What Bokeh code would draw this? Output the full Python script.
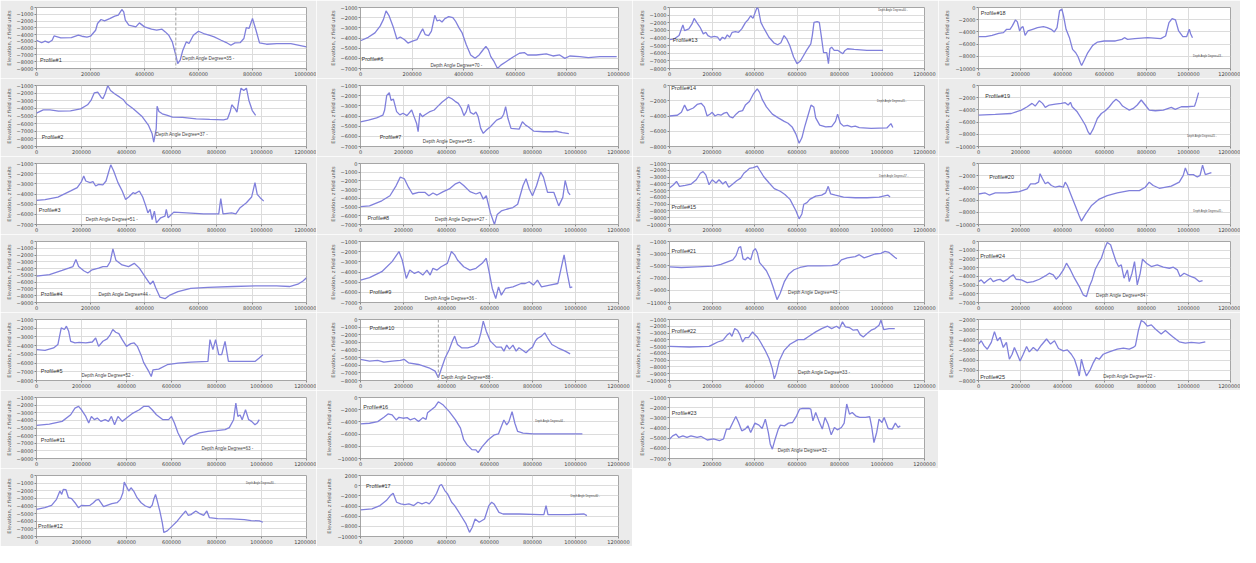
from bokeh.plotting import figure
from bokeh.layouts import gridplot
from bokeh.models import Range1d, FixedTicker, BasicTickFormatter, Label, Span
from bokeh.embed import file_html
from bokeh.resources import INLINE

# ---------------- data ----------------
P1_X = [0, 19000, 32000, 45000, 58000, 65000, 90000, 129000, 155000, 168000, 187000, 200000, 219000, 226000, 239000, 252000, 271000, 290000, 303000, 316000, 323000, 329000, 342000, 368000, 381000, 400000, 426000, 445000, 465000, 477000, 490000, 503000, 516000, 523000, 532000, 542000, 555000, 565000, 581000, 600000, 619000, 639000, 658000, 684000, 703000, 720000, 735000, 755000, 768000, 777000, 787000, 800000, 813000, 826000, 852000, 890000, 942000, 1000000]
P1_Y = [-4830, -5200, -4950, -5170, -4830, -4200, -4480, -4430, -4090, -4240, -4380, -4240, -3350, -2360, -1770, -1970, -1630, -1280, -1130, -300, -640, -1870, -2610, -2860, -2270, -2860, -3200, -3350, -3200, -3600, -4090, -5070, -7040, -8280, -7780, -6300, -5070, -5320, -4090, -3500, -3840, -4090, -4330, -4830, -5170, -5570, -5220, -5170, -4580, -2960, -3100, -1630, -3350, -5220, -5420, -5320, -5320, -5810]

P2_X = [0, 30000, 60000, 98000, 151000, 196000, 227000, 242000, 257000, 272000, 287000, 295000, 305000, 317000, 329000, 347000, 370000, 385000, 400000, 430000, 468000, 498000, 514000, 521000, 532000, 536000, 544000, 559000, 582000, 604000, 649000, 710000, 770000, 831000, 849000, 861000, 868000, 883000, 891000, 903000, 909000, 921000, 933000, 944000, 959000, 974000]
P2_Y = [-4620, -4190, -4190, -4360, -4320, -4060, -3530, -2960, -1960, -1870, -2530, -2750, -2090, -1000, -1650, -2090, -2530, -2830, -3400, -4060, -5020, -6240, -7330, -8420, -6680, -3710, -4400, -4710, -4930, -5150, -5190, -5370, -5450, -5500, -5370, -4400, -3530, -4060, -4490, -2310, -1350, -1650, -1350, -2960, -4280, -4930]

P3_X = [0, 38000, 95000, 152000, 181000, 200000, 210000, 219000, 238000, 251000, 263000, 276000, 295000, 309000, 320000, 330000, 343000, 362000, 381000, 396000, 410000, 429000, 438000, 457000, 472000, 486000, 495000, 505000, 514000, 524000, 533000, 552000, 571000, 577000, 585000, 610000, 667000, 743000, 810000, 819000, 829000, 867000, 886000, 905000, 933000, 956000, 971000, 981000, 994000, 1010000]
P3_Y = [-4630, -4560, -4300, -3700, -3380, -2780, -2220, -2720, -2880, -2780, -3210, -3050, -3110, -2720, -1890, -1130, -1730, -2880, -3700, -4530, -4300, -3870, -3960, -3700, -4300, -5190, -5850, -5520, -6510, -5680, -6840, -6340, -6180, -5520, -6340, -5780, -5850, -5950, -5950, -4460, -5950, -5850, -5950, -5350, -4860, -4300, -2880, -4030, -4360, -4700]

P4_X = [0, 48000, 95000, 119000, 135000, 146000, 156000, 175000, 190000, 206000, 230000, 246000, 262000, 273000, 283000, 294000, 317000, 341000, 362000, 381000, 405000, 421000, 432000, 441000, 457000, 476000, 492000, 524000, 571000, 635000, 730000, 810000, 889000, 937000, 968000, 987000, 1000000]
P4_Y = [-5120, -4880, -4270, -3930, -3700, -2650, -3700, -4320, -4640, -4170, -3930, -3700, -3700, -2990, -1090, -2750, -3460, -3700, -3220, -3930, -5360, -6300, -5830, -6780, -8200, -8440, -7960, -7390, -6920, -6780, -6640, -6540, -6540, -6640, -6300, -5830, -5360]

P5_X = [0, 38000, 76000, 95000, 110000, 124000, 133000, 143000, 152000, 171000, 190000, 219000, 248000, 263000, 276000, 295000, 314000, 328000, 339000, 352000, 366000, 381000, 400000, 419000, 434000, 448000, 467000, 476000, 486000, 499000, 510000, 518000, 543000, 581000, 629000, 686000, 762000, 771000, 784000, 796000, 810000, 823000, 838000, 853000, 895000, 971000, 990000, 1006000]
P5_Y = [-4460, -4540, -4270, -3880, -1960, -2150, -1770, -2350, -3500, -3690, -3620, -3690, -3580, -3120, -4080, -3500, -3230, -2730, -2150, -2460, -2620, -3310, -4080, -3770, -3690, -4080, -5230, -5920, -6380, -6960, -7540, -6770, -6690, -6190, -6000, -5880, -5810, -3310, -4460, -3310, -5040, -5040, -3500, -5810, -5810, -5810, -5420, -5040]

P6_X = [0, 30000, 56000, 76000, 89000, 99000, 111000, 128000, 141000, 154000, 171000, 184000, 199000, 219000, 232000, 241000, 251000, 264000, 275000, 288000, 297000, 306000, 316000, 327000, 342000, 358000, 368000, 382000, 394000, 410000, 427000, 444000, 460000, 473000, 486000, 496000, 505000, 518000, 531000, 544000, 564000, 590000, 616000, 635000, 648000, 681000, 720000, 746000, 772000, 792000, 811000, 850000, 883000, 928000, 967000, 993000]
P6_Y = [-4270, -3930, -3500, -2830, -2170, -1330, -1830, -3000, -4100, -3900, -4170, -4500, -4330, -4170, -3500, -3100, -3670, -3770, -3330, -1770, -2330, -2230, -2430, -2100, -1900, -2000, -2330, -3000, -3500, -4670, -5670, -6000, -5670, -5230, -4830, -5170, -5830, -6330, -7000, -6670, -6330, -5900, -5500, -5430, -5670, -5670, -5570, -5770, -5670, -6000, -5770, -5830, -5930, -5830, -5830, -5830]

P7_X = [0, 37000, 75000, 104000, 112000, 122000, 134000, 142000, 153000, 168000, 183000, 198000, 216000, 238000, 249000, 261000, 268000, 276000, 288000, 298000, 320000, 343000, 358000, 380000, 410000, 425000, 440000, 455000, 469000, 481000, 492000, 502000, 511000, 526000, 537000, 547000, 559000, 571000, 586000, 604000, 633000, 656000, 666000, 675000, 686000, 700000, 738000, 753000, 768000, 780000, 805000, 850000, 894000, 909000, 939000, 969000]
P7_Y = [-4570, -4410, -4180, -3920, -3440, -1970, -1710, -2460, -2340, -3570, -3890, -3730, -3960, -3410, -4060, -4730, -5550, -3730, -4060, -3900, -3600, -3410, -3080, -2620, -2140, -2300, -2560, -2760, -3240, -3960, -3570, -2860, -3640, -3830, -3600, -4060, -5220, -5710, -5380, -5060, -4410, -4180, -3830, -3080, -4250, -5220, -5290, -4570, -4900, -5060, -5480, -5550, -5550, -5500, -5640, -5740]

P8_X = [0, 42000, 99000, 137000, 166000, 185000, 204000, 223000, 242000, 270000, 299000, 318000, 337000, 356000, 385000, 413000, 442000, 461000, 480000, 509000, 537000, 556000, 571000, 585000, 604000, 623000, 636000, 655000, 680000, 709000, 731000, 756000, 770000, 785000, 800000, 819000, 838000, 851000, 870000, 899000, 922000, 941000, 952000, 966000, 975000]
P8_Y = [-4940, -4860, -4280, -3700, -2530, -1560, -1750, -2720, -3500, -3310, -3310, -3700, -3390, -3620, -3230, -2920, -2330, -2140, -2530, -3230, -3500, -3310, -4090, -3700, -5640, -7000, -5840, -5450, -5250, -5060, -4670, -2530, -1750, -2920, -3700, -2530, -970, -1560, -3310, -3310, -4860, -3890, -1950, -3310, -3600]

P9_X = [0, 42000, 99000, 147000, 179000, 194000, 213000, 229000, 251000, 270000, 290000, 309000, 324000, 337000, 356000, 375000, 404000, 423000, 438000, 451000, 480000, 509000, 537000, 566000, 585000, 598000, 613000, 629000, 642000, 655000, 674000, 709000, 747000, 766000, 785000, 804000, 823000, 842000, 880000, 918000, 933000, 947000, 960000, 975000, 985000]
P9_Y = [-4800, -4560, -3970, -2980, -1990, -2820, -4630, -3810, -4140, -3970, -4300, -3810, -4300, -3640, -3810, -3480, -3150, -1990, -2320, -2820, -3480, -3810, -3640, -3150, -2650, -3970, -5620, -6610, -5460, -6280, -5620, -5460, -5130, -5130, -4960, -5290, -4800, -5460, -5290, -5130, -3640, -2320, -3970, -5550, -5460]

P10_X = [0, 42000, 80000, 109000, 147000, 185000, 204000, 223000, 270000, 318000, 347000, 362000, 375000, 394000, 413000, 427000, 438000, 451000, 470000, 499000, 528000, 547000, 560000, 571000, 585000, 604000, 632000, 655000, 667000, 680000, 693000, 709000, 724000, 737000, 756000, 770000, 785000, 800000, 813000, 823000, 842000, 857000, 870000, 890000, 918000, 952000, 975000]
P10_Y = [-5240, -5460, -5370, -5590, -5460, -5370, -5240, -5680, -5900, -6330, -6770, -7640, -6550, -5020, -3930, -2840, -2180, -3280, -3710, -3710, -3490, -3060, -1750, -220, -1530, -2840, -3620, -3620, -4150, -3360, -3880, -3360, -4150, -3710, -4060, -4370, -3930, -3620, -2840, -2490, -2180, -1750, -2400, -3280, -3710, -4150, -4500]

P11_X = [0, 57000, 114000, 152000, 171000, 187000, 200000, 219000, 232000, 244000, 257000, 270000, 286000, 305000, 320000, 333000, 347000, 362000, 381000, 400000, 429000, 457000, 476000, 499000, 514000, 533000, 562000, 587000, 600000, 613000, 629000, 644000, 653000, 667000, 686000, 724000, 762000, 800000, 838000, 857000, 876000, 886000, 895000, 905000, 914000, 929000, 943000, 956000, 971000, 981000, 990000]
P11_Y = [-4650, -4480, -4130, -3260, -2390, -2170, -2610, -3480, -4350, -3480, -3910, -3700, -4130, -3910, -4130, -3480, -4570, -3480, -4130, -3700, -3040, -2610, -2170, -2170, -2610, -3260, -3910, -3910, -3480, -4350, -5650, -6520, -7170, -6520, -6090, -5650, -5430, -5350, -5220, -4950, -3910, -1740, -3480, -3300, -3910, -2610, -3910, -4130, -4570, -4350, -3910]

P12_X = [0, 37000, 67000, 89000, 104000, 112000, 119000, 131000, 142000, 156000, 171000, 186000, 201000, 216000, 238000, 253000, 265000, 276000, 286000, 298000, 313000, 335000, 358000, 373000, 384000, 390000, 399000, 410000, 420000, 432000, 447000, 465000, 484000, 504000, 514000, 522000, 529000, 537000, 548000, 559000, 566000, 581000, 604000, 626000, 644000, 663000, 674000, 686000, 708000, 723000, 743000, 757000, 768000, 805000, 865000, 924000, 954000, 991000, 1006000]
P12_Y = [-4430, -4220, -3910, -3130, -2040, -2480, -1830, -1870, -2910, -3040, -3570, -4220, -3910, -3960, -3910, -3570, -3220, -3130, -3570, -4090, -3910, -3700, -3570, -3130, -2260, -870, -1390, -2040, -1610, -2040, -2910, -3570, -4000, -4220, -3910, -3040, -2480, -3350, -4650, -6170, -7480, -7260, -6610, -5960, -5300, -4650, -5220, -5130, -4650, -4960, -5220, -4650, -5520, -5650, -5700, -5780, -5910, -5960, -6130]

P13_X = [0, 23000, 45000, 56000, 63000, 71000, 91000, 106000, 116000, 128000, 144000, 159000, 171000, 181000, 196000, 211000, 227000, 237000, 249000, 261000, 272000, 283000, 295000, 310000, 325000, 340000, 358000, 370000, 382000, 393000, 403000, 412000, 418000, 430000, 446000, 468000, 491000, 509000, 524000, 539000, 551000, 566000, 584000, 600000, 615000, 627000, 645000, 665000, 672000, 680000, 695000, 705000, 714000, 725000, 740000, 748000, 755000, 763000, 775000, 793000, 816000, 826000, 838000, 869000, 929000, 1005000]
P13_Y = [-4200, -4110, -3680, -2810, -2290, -3030, -2810, -2160, -1430, -1950, -2600, -3460, -3250, -3680, -3900, -3790, -3900, -4330, -3900, -4110, -3590, -3900, -3250, -3160, -3250, -2810, -1950, -1600, -1080, -1430, -650, 0, -220, -1950, -2810, -3900, -4630, -4890, -4630, -3680, -4110, -4980, -6490, -7360, -7060, -6490, -5630, -4760, -3680, -1950, -1860, -1950, -3680, -5930, -5930, -7360, -5410, -5200, -5630, -5630, -6060, -5630, -5410, -5500, -5630, -5630]

P14_X = [0, 37000, 56000, 71000, 84000, 112000, 130000, 149000, 164000, 177000, 190000, 201000, 214000, 227000, 242000, 257000, 270000, 283000, 298000, 313000, 326000, 344000, 357000, 376000, 394000, 413000, 424000, 437000, 456000, 484000, 512000, 540000, 558000, 577000, 595000, 610000, 623000, 636000, 651000, 666000, 679000, 688000, 707000, 735000, 763000, 781000, 791000, 804000, 819000, 837000, 856000, 874000, 893000, 949000, 1023000, 1042000, 1051000]
P14_Y = [-4000, -3900, -3520, -2570, -3290, -2950, -2480, -2330, -2810, -4000, -3760, -3520, -4000, -3800, -3900, -3620, -3520, -4090, -4240, -3760, -3430, -3290, -2570, -2100, -1140, -430, -900, -1860, -2810, -3760, -4240, -4710, -4950, -5430, -6380, -7570, -6860, -5430, -4000, -2570, -2810, -4240, -5190, -5430, -5380, -4710, -3760, -4950, -5330, -5240, -5430, -5330, -5520, -5620, -5570, -5000, -5520]

P15_X = [0, 19000, 33000, 47000, 74000, 102000, 126000, 145000, 158000, 171000, 186000, 201000, 219000, 233000, 251000, 264000, 279000, 298000, 316000, 335000, 350000, 363000, 376000, 394000, 413000, 424000, 443000, 469000, 493000, 521000, 543000, 567000, 595000, 610000, 623000, 632000, 647000, 660000, 688000, 716000, 735000, 747000, 758000, 781000, 819000, 874000, 930000, 986000, 1027000, 1038000]
P15_Y = [-4610, -4130, -3640, -4370, -4220, -4030, -3400, -2440, -2200, -2680, -4130, -3400, -3880, -3400, -4030, -3640, -4510, -4030, -3540, -3160, -2440, -2100, -1720, -1620, -1380, -1960, -2920, -3880, -4700, -5090, -5570, -6290, -7970, -9170, -8450, -7010, -6770, -6290, -5810, -5660, -5330, -4370, -5470, -5660, -5950, -6050, -6050, -5950, -5660, -5950]

P16_X = [0, 42000, 80000, 109000, 128000, 147000, 166000, 179000, 198000, 217000, 232000, 251000, 270000, 290000, 305000, 312000, 328000, 347000, 362000, 385000, 413000, 442000, 465000, 480000, 495000, 518000, 537000, 547000, 566000, 594000, 623000, 642000, 655000, 667000, 680000, 690000, 705000, 718000, 731000, 756000, 804000, 899000, 1032000]
P16_Y = [-4320, -4220, -3950, -3240, -2700, -2860, -3680, -3240, -3400, -3300, -3680, -3400, -3950, -3300, -3600, -2490, -2050, -1510, -700, -1240, -2320, -3680, -5030, -6920, -7730, -8540, -8600, -9030, -8050, -6920, -6110, -5950, -4760, -3680, -4490, -4000, -2320, -4220, -5570, -5840, -5950, -5950, -5950]

P17_X = [0, 53000, 91000, 120000, 139000, 152000, 168000, 187000, 206000, 225000, 248000, 267000, 286000, 305000, 320000, 339000, 354000, 368000, 377000, 392000, 405000, 424000, 438000, 453000, 472000, 491000, 507000, 520000, 533000, 552000, 577000, 597000, 610000, 621000, 644000, 663000, 739000, 834000, 853000, 863000, 872000, 968000, 1040000, 1053000]
P17_Y = [-4780, -4580, -3920, -2930, -1950, -1490, -3260, -3590, -3720, -3590, -3920, -3260, -3590, -3260, -3590, -2600, -1490, 0, 220, -960, -1620, -3260, -3920, -4910, -6220, -7530, -9180, -8190, -6550, -7210, -6550, -3920, -3260, -3590, -5240, -5570, -5570, -5700, -5700, -3920, -5700, -5700, -5570, -5900]

P18_X = [0, 34000, 65000, 96000, 119000, 134000, 150000, 161000, 176000, 185000, 196000, 204000, 212000, 222000, 235000, 258000, 281000, 309000, 327000, 346000, 361000, 374000, 386000, 397000, 405000, 417000, 433000, 448000, 463000, 474000, 485000, 491000, 505000, 520000, 544000, 567000, 598000, 652000, 683000, 695000, 710000, 744000, 806000, 868000, 891000, 907000, 922000, 938000, 953000, 973000, 991000, 1004000, 1010000, 1019000]
P18_Y = [-4780, -4780, -4560, -4230, -4120, -3570, -3570, -3020, -2030, -2360, -3850, -3300, -3130, -4560, -3850, -3570, -3300, -3130, -3300, -3570, -4010, -3300, -550, -270, -1370, -3570, -4950, -6870, -7420, -8080, -9070, -9510, -8520, -7420, -6210, -5660, -5490, -5490, -5220, -4950, -5220, -5110, -4950, -5110, -4670, -2470, -1810, -2030, -3850, -4780, -4780, -3570, -4300, -4950]

P19_X = [0, 80000, 156000, 204000, 232000, 255000, 270000, 290000, 305000, 318000, 337000, 366000, 394000, 413000, 427000, 438000, 446000, 470000, 490000, 509000, 522000, 531000, 547000, 566000, 585000, 604000, 623000, 642000, 655000, 670000, 686000, 705000, 718000, 737000, 756000, 775000, 794000, 813000, 842000, 880000, 918000, 937000, 966000, 994000, 1029000, 1036000, 1048000]
P19_Y = [-4860, -4750, -4590, -4030, -3480, -2930, -3370, -2490, -2930, -3590, -3200, -3040, -2930, -2820, -3200, -2760, -3480, -4310, -5410, -6520, -7620, -8070, -7070, -5410, -4590, -4140, -3480, -2650, -2270, -2650, -3370, -3760, -4030, -3760, -3200, -2380, -3200, -4030, -4140, -4030, -3590, -3920, -3480, -3480, -3370, -2650, -1160]

P20_X = [0, 32000, 51000, 80000, 137000, 194000, 232000, 248000, 270000, 286000, 293000, 305000, 318000, 331000, 347000, 366000, 385000, 404000, 413000, 423000, 442000, 461000, 480000, 490000, 509000, 537000, 575000, 613000, 661000, 718000, 766000, 794000, 813000, 832000, 861000, 918000, 956000, 975000, 985000, 998000, 1023000, 1042000, 1055000, 1067000, 1080000, 1109000]
P20_Y = [-5000, -4830, -5170, -4830, -4830, -4610, -4170, -3330, -3330, -3060, -1670, -2500, -3330, -3060, -3610, -3890, -3720, -3890, -3060, -3610, -5280, -6940, -8610, -9440, -8330, -6940, -5830, -5280, -4830, -4440, -4440, -3890, -3060, -3610, -4060, -3720, -3060, -1940, -720, -1830, -1830, -2220, -1940, -280, -1830, -1500]

P21_X = [0, 56000, 130000, 205000, 242000, 270000, 298000, 313000, 326000, 335000, 346000, 357000, 368000, 382000, 394000, 404000, 413000, 424000, 437000, 456000, 474000, 487000, 499000, 506000, 521000, 540000, 562000, 586000, 614000, 651000, 707000, 763000, 791000, 809000, 837000, 874000, 893000, 916000, 940000, 967000, 995000, 1014000, 1033000, 1046000, 1060000, 1070000]
P21_Y = [-5160, -5260, -5160, -5050, -4740, -4370, -4000, -3320, -2000, -1840, -3840, -4000, -3580, -4000, -2530, -2160, -2790, -4470, -5000, -5790, -7110, -8420, -9740, -10530, -9470, -7630, -6320, -5630, -5260, -5000, -5000, -4950, -4740, -4000, -3680, -3470, -3160, -3680, -3400, -3050, -2950, -2630, -2790, -3160, -3580, -3840]

P22_X = [0, 93000, 186000, 205000, 227000, 251000, 270000, 283000, 294000, 307000, 320000, 331000, 344000, 357000, 372000, 391000, 400000, 413000, 428000, 450000, 469000, 484000, 493000, 502000, 517000, 540000, 567000, 605000, 633000, 651000, 688000, 716000, 744000, 763000, 786000, 800000, 814000, 828000, 846000, 865000, 884000, 897000, 912000, 930000, 949000, 967000, 986000, 995000, 1008000, 1033000, 1060000]
P22_Y = [-4960, -5060, -4960, -4660, -4320, -4070, -3330, -2980, -3480, -2340, -2580, -3230, -4320, -3680, -3680, -2830, -3180, -3580, -4320, -5550, -6790, -8280, -9760, -9020, -7040, -5550, -4660, -3970, -3970, -3580, -2830, -2340, -1990, -2340, -1990, -2340, -1350, -2090, -2190, -2580, -2480, -3230, -3580, -3080, -2580, -2340, -1840, -1100, -2480, -2340, -2340]

P23_X = [0, 15000, 31000, 44000, 63000, 82000, 101000, 130000, 149000, 178000, 207000, 235000, 254000, 268000, 283000, 298000, 312000, 325000, 340000, 356000, 369000, 382000, 402000, 421000, 436000, 451000, 465000, 474000, 484000, 497000, 512000, 522000, 541000, 560000, 579000, 598000, 612000, 627000, 656000, 665000, 675000, 688000, 703000, 719000, 732000, 746000, 761000, 776000, 790000, 809000, 822000, 834000, 847000, 860000, 876000, 895000, 923000, 942000, 952000, 962000, 975000, 986000, 1000000, 1010000, 1029000, 1048000, 1063000, 1076000, 1086000]
P23_Y = [-5100, -4770, -4610, -4930, -4770, -4930, -4770, -4930, -4830, -5180, -5080, -5250, -5080, -4110, -4110, -3460, -2870, -3460, -4280, -4110, -3790, -4440, -3520, -3720, -4050, -3130, -4440, -5570, -6080, -5100, -4110, -3720, -3790, -3520, -3460, -2800, -2150, -2080, -2080, -2150, -3300, -2480, -3300, -4110, -2960, -3600, -4670, -3950, -4180, -3950, -3520, -1640, -2640, -2480, -2800, -2960, -2960, -2870, -3950, -5430, -4440, -3130, -3460, -2960, -4050, -4110, -3520, -3950, -3790]

P24_X = [0, 13000, 27000, 42000, 57000, 70000, 90000, 103000, 118000, 137000, 152000, 166000, 179000, 204000, 232000, 261000, 290000, 318000, 337000, 356000, 370000, 385000, 404000, 419000, 438000, 457000, 480000, 499000, 514000, 528000, 541000, 556000, 571000, 585000, 598000, 613000, 629000, 642000, 655000, 667000, 680000, 693000, 709000, 718000, 731000, 743000, 756000, 770000, 781000, 800000, 823000, 851000, 880000, 909000, 928000, 947000, 960000, 979000, 1004000, 1032000, 1051000, 1067000]
P24_Y = [-4600, -4410, -4790, -4480, -4210, -4600, -4410, -4350, -4600, -4350, -4020, -3830, -4330, -4410, -4710, -4600, -4330, -3950, -3640, -3830, -4330, -3950, -3260, -2490, -3260, -4210, -5170, -6130, -6320, -5170, -4410, -3180, -2490, -1920, -960, -110, -380, -1340, -2300, -2870, -2680, -4210, -3260, -4600, -3640, -2300, -4980, -3640, -2030, -2490, -2870, -2680, -2950, -3070, -2950, -3260, -4020, -3640, -3950, -4210, -4600, -4480]

P25_X = [0, 13000, 27000, 42000, 61000, 76000, 90000, 103000, 118000, 133000, 147000, 160000, 171000, 185000, 198000, 213000, 229000, 242000, 261000, 280000, 299000, 324000, 343000, 362000, 381000, 404000, 423000, 442000, 457000, 470000, 480000, 490000, 503000, 514000, 533000, 547000, 560000, 575000, 594000, 613000, 636000, 661000, 690000, 718000, 737000, 747000, 762000, 775000, 789000, 804000, 823000, 842000, 870000, 890000, 909000, 928000, 956000, 985000, 1013000, 1051000, 1080000]
P25_Y = [-4420, -4090, -4590, -4920, -4250, -3190, -4090, -3750, -4750, -4250, -5910, -5420, -4750, -5420, -6080, -5420, -4650, -5190, -4750, -5090, -4530, -3920, -4420, -4090, -4850, -5090, -4990, -5420, -5910, -6740, -7560, -5910, -6900, -7560, -6900, -6240, -5750, -5910, -5420, -5250, -5090, -4920, -4820, -4920, -4750, -4590, -3030, -2100, -2270, -2660, -2530, -2930, -3420, -3090, -3420, -3750, -4190, -4320, -4250, -4320, -4190]

PROFILE_NUMBERS = list(range(1, 26))
DEPTH_ANGLES = [35, 37, 51, 44, 52, 70, 55, 27, 36, 88, 63, 80, 60, 45, 57, 64, 60, 43, 45, 45, 43, 33, 32, 84, 22]
SERIES = {1: (P1_X, P1_Y), 2: (P2_X, P2_Y), 3: (P3_X, P3_Y), 4: (P4_X, P4_Y), 5: (P5_X, P5_Y),
          6: (P6_X, P6_Y), 7: (P7_X, P7_Y), 8: (P8_X, P8_Y), 9: (P9_X, P9_Y), 10: (P10_X, P10_Y),
          11: (P11_X, P11_Y), 12: (P12_X, P12_Y), 13: (P13_X, P13_Y), 14: (P14_X, P14_Y), 15: (P15_X, P15_Y),
          16: (P16_X, P16_Y), 17: (P17_X, P17_Y), 18: (P18_X, P18_Y), 19: (P19_X, P19_Y), 20: (P20_X, P20_Y),
          21: (P21_X, P21_Y), 22: (P22_X, P22_Y), 23: (P23_X, P23_Y), 24: (P24_X, P24_Y), 25: (P25_X, P25_Y)}

# ---------------- layout / style (not data) ----------------
# profile -> (x max, y min, y max, y step)
AXES = {1: (1000000, -9000, 0, 1000), 2: (1200000, -9000, -1000, 1000), 3: (1200000, -7000, -1000, 1000),
        4: (1000000, -9000, 0, 1000), 5: (1200000, -8000, -1000, 1000), 6: (1000000, -7000, -1000, 1000),
        7: (1200000, -7000, -1000, 1000), 8: (1200000, -7000, 0, 1000), 9: (1200000, -7000, -1000, 1000),
        10: (1200000, -8000, 0, 1000), 11: (1200000, -9000, -1000, 1000), 12: (1200000, -8000, 0, 1000),
        13: (1200000, -8000, 0, 1000), 14: (1200000, -8000, 0, 2000), 15: (1200000, -10000, -1000, 1000),
        16: (1200000, -10000, 0, 2000), 17: (1200000, -10000, 2000, 2000), 18: (1200000, -10000, 0, 2000),
        19: (1200000, -10000, 0, 2000), 20: (1200000, -10000, 0, 2000), 21: (1200000, -11000, -1000, 2000),
        22: (1200000, -10000, -1000, 1000), 23: (1200000, -7000, -1000, 1000), 24: (1200000, -7000, 0, 1000),
        25: (1200000, -8000, -2000, 1000)}
# profile -> (label x, label y, depth text x, depth text y, small depth text)
LABELS = {1: (13000, -7800, 540000, -7500, False), 2: (23000, -7700, 530000, -7460, False),
          3: (10000, -5550, 219000, -6500, False), 4: (16000, -7680, 230000, -7820, False),
          5: (19000, -6960, 200000, -7420, False), 6: (4000, -6100, 271000, -6670, False),
          7: (89000, -6030, 290000, -6520, False), 8: (32000, -6300, 347000, -6420, False),
          9: (42000, -5950, 299000, -6610, False), 10: (42000, -1090, 375000, -7550, False),
          11: (19000, -6520, 733000, -7700, False), 12: (7000, -6610, 931000, -1050, True),
          13: (15000, -4240, 982000, -450, True), 14: (8000, -350, 977000, -2100, True),
          15: (9000, -7400, 986000, -2920, True), 16: (13000, -1620, 813000, -3950, True),
          17: (25000, 0, 977000, -2150, True), 18: (11000, -820, 1022000, -7970, True),
          19: (32000, -1660, 994000, -8400, True), 20: (51000, -2220, 1023000, -7780, True),
          21: (9000, -2530, 558000, -9310, False), 22: (9000, -2680, 605000, -8870, False),
          23: (11000, -2480, 509000, -6180, False), 24: (8000, -1650, 560000, -6170, False),
          25: (8000, -7700, 594000, -7630, False)}
MARKERS = {1: 516000, 10: 362000}

GRID = [[1, 6, 13, 18], [2, 7, 14, 19], [3, 8, 15, 20], [4, 9, 21, 24],
        [5, 10, 22, 25], [11, 16, 23, None], [12, 17, None, None]]
COL_W = [316, 316, 306, 302]
COL_LEFT = [36, 44, 30, 40]
COL_RIGHT = [10, 14, 14, 10]
ROW_H = 78
BG = "#ebebeb"
LINE = "#8080dc"
FONT = "Liberation Sans"


def make_panel(n, col):
    xs, ys = SERIES[n]
    xmax, ymin, ymax, ystep = AXES[n]
    p = figure(width=COL_W[col], height=ROW_H, output_backend="svg", toolbar_location=None,
               x_range=Range1d(0, xmax), y_range=Range1d(ymin, ymax),
               min_border_left=COL_LEFT[col], min_border_right=COL_RIGHT[col],
               min_border_top=7, min_border_bottom=10,
               background_fill_color="white", border_fill_color=BG)
    p.outline_line_color = "#a6a6a6"
    p.xaxis.ticker = FixedTicker(ticks=list(range(0, xmax + 1, 200000)))
    p.yaxis.ticker = FixedTicker(ticks=list(range(ymin, ymax + 1, ystep)))
    p.xaxis.formatter = BasicTickFormatter(use_scientific=False)
    p.yaxis.formatter = BasicTickFormatter(use_scientific=False)
    for ax in (p.xaxis[0], p.yaxis[0]):
        ax.axis_line_color = None
        ax.major_tick_line_color = "#888888"
        ax.major_tick_out = 2
        ax.major_tick_in = 0
        ax.minor_tick_line_color = None
        ax.major_label_text_font_size = "5px"
        ax.major_label_text_color = "#444444"
        ax.major_label_text_font = "DejaVu Sans"
        ax.major_label_standoff = 1
    p.yaxis.axis_label = "Elevation, z field units"
    p.yaxis.axis_label_text_font_size = "5px"
    p.yaxis.axis_label_text_font_style = "normal"
    p.yaxis.axis_label_text_color = "#555555"
    p.yaxis.axis_label_text_font = "DejaVu Sans"
    p.yaxis.axis_label_standoff = 2
    p.grid.grid_line_color = "#dcdcdc"
    p.grid.grid_line_width = 1
    if n in MARKERS:
        p.add_layout(Span(location=MARKERS[n], dimension="height", line_color="#a0a0a0",
                          line_dash="3 2", line_width=1))
    p.line(xs, ys, line_color=LINE, line_width=1.3)
    lx, ly, dx, dy, small = LABELS[n]
    p.add_layout(Label(x=lx, y=ly, text=f"Profile#{n}", text_font_size="5.5px",
                       text_color="#333333", text_font=FONT, text_baseline="middle"))
    p.add_layout(Label(x=dx, y=dy, text=f"Depth Angle Degree={DEPTH_ANGLES[n - 1]} -",
                       text_font_size="2.6px" if small else "4.6px",
                       text_color="#444444", text_font=FONT, text_baseline="middle"))
    return p


rows = []
for r in GRID:
    row_figs = []
    for c, n in enumerate(r):
        row_figs.append(make_panel(n, c) if n is not None else None)
    rows.append(row_figs)

layout = gridplot(rows, toolbar_location=None)
html = file_html(layout, INLINE)
html = html.replace("<body>", '<body style="background-color:#ebebeb;">', 1)
open("out.html", "w").write(html)
